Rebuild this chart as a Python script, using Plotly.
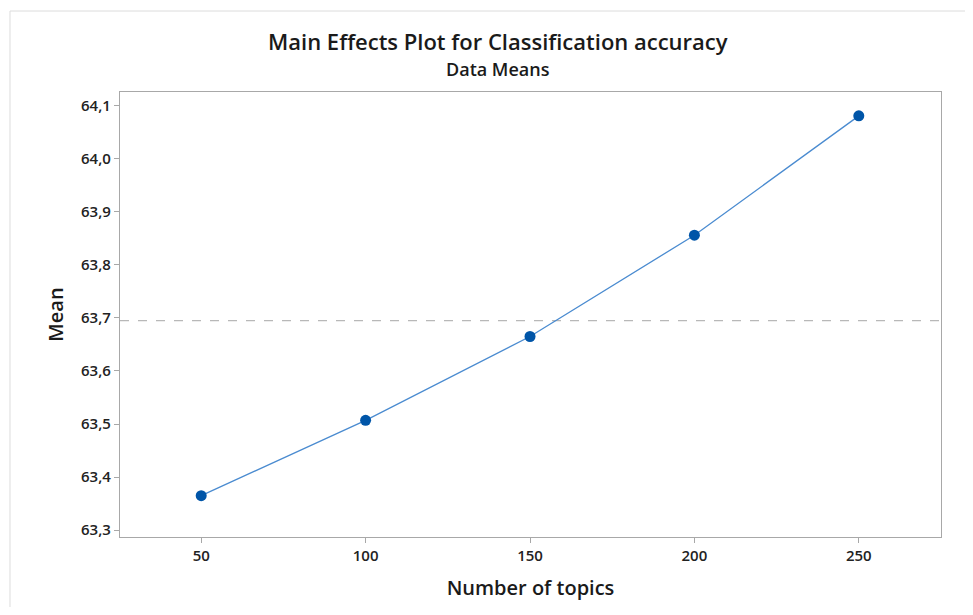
import plotly.graph_objects as go

topics = [50, 100, 150, 200, 250]
means = [63.365, 63.507, 63.665, 63.856, 64.081]
grand_mean = sum(means) / len(means)
y_ticks = [63.3, 63.4, 63.5, 63.6, 63.7, 63.8, 63.9, 64.0, 64.1]
x_ticks = [50, 100, 150, 200, 250]

FONT = "Open Sans"

fig = go.Figure()
fig.add_trace(go.Scatter(
    x=topics, y=means, mode="lines+markers",
    line=dict(color="#4a8bd0", width=1.3),
    marker=dict(color="#0055a8", size=11),
    showlegend=False,
))

fig.add_shape(type="line", xref="paper", x0=0, x1=1, yref="y", y0=grand_mean, y1=grand_mean,
              line=dict(color="#b8b8b8", width=1.3, dash="dash"), layer="below")
# outer frame
fig.add_shape(type="rect", xref="paper", yref="paper", x0=-0.134, x1=1.2, y0=-0.3, y1=1.182,
              line=dict(color="#dcdcdc", width=1), layer="below")

fig.update_layout(
    width=957, height=599,
    margin=dict(l=112, r=24, t=84, b=65),
    paper_bgcolor="white", plot_bgcolor="white",
    separators=",.",
    font=dict(family=FONT, color="#222222"),
    annotations=[
        dict(text="Main Effects Plot for Classification accuracy", xref="paper", yref="paper",
             x=0.461, y=1.0 + (92 - 40) / 450, xanchor="center", yanchor="middle",
             showarrow=False, font=dict(size=22, family=FONT, color="#1a1a1a", weight=600)),
        dict(text="Data Means", xref="paper", yref="paper",
             x=0.461, y=1.0 + (92 - 69) / 450, xanchor="center", yanchor="middle",
             showarrow=False, font=dict(size=18, family=FONT, color="#1a1a1a", weight=600)),
    ],
)
fig.update_xaxes(
    range=[25.3, 275], tickvals=x_ticks, ticktext=[str(v) for v in x_ticks],
    showgrid=False, zeroline=False, showline=True, mirror=True,
    linecolor="#a8a8a8", linewidth=1.3, ticks="outside", ticklen=5, tickcolor="#a8a8a8",
    tickfont=dict(size=15, family=FONT, color="#222222", weight=600),
    title=dict(text="Number of topics", font=dict(size=20, family=FONT, color="#1a1a1a", weight=600), standoff=16),
)
fig.update_yaxes(
    range=[63.287, 64.126], tickvals=y_ticks, tickformat=".1f",
    showgrid=False, zeroline=False, showline=True, mirror=True,
    linecolor="#a8a8a8", linewidth=1.3, ticks="outside", ticklen=5, tickcolor="#a8a8a8",
    tickfont=dict(size=15, family=FONT, color="#222222", weight=600),
    title=dict(text="Mean", font=dict(size=20, family=FONT, color="#1a1a1a", weight=600), standoff=12),
)

fig.write_html("out.html")
